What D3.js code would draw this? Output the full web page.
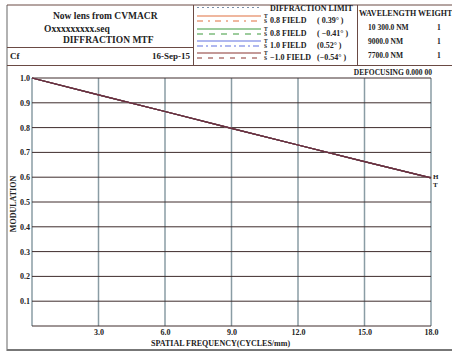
<!DOCTYPE html>
<html>
<head>
<meta charset="utf-8">
<script src="https://cdn.jsdelivr.net/npm/d3@7"></script>
<style>
  body { margin: 0; background: #fff; }
  svg text { font-family: "Liberation Serif", "DejaVu Serif", serif; font-weight: bold; fill: #222; }
</style>
</head>
<body>
<div id="chart"></div>
<script>
// MTF curve (all fields lie on the diffraction limit)
const frequencies = [0, 3, 6, 9, 12, 15, 18];
const diffractionMtf = [1.0, 0.932, 0.865, 0.797, 0.730, 0.663, 0.597];
const fieldMtf = [
  { name: '0.8 FIELD', angle: '( 0.39° )', color: '#e07040', values: diffractionMtf },
  { name: '0.8 FIELD', angle: '( −0.41° )', color: '#3c9a3c', values: diffractionMtf },
  { name: '1.0 FIELD', angle: '(0.52° )', color: '#6070e0', values: diffractionMtf },
  { name: '−1.0 FIELD', angle: '(−0.54° )', color: '#8a3430', values: diffractionMtf }
];
const xTicks = [3, 6, 9, 12, 15, 18];
const yTicks = [0.1, 0.2, 0.3, 0.4, 0.5, 0.6, 0.7, 0.8, 0.9, 1.0];
const wavelengths = ['10 300.0 NM', '9000.0 NM', '7700.0 NM'];
const weights = ['1', '1', '1'];
const headerLines = ['Now lens from CVMACR', 'Oxxxxxxxxx.seq', 'DIFFRACTION MTF'];

const width = 452, height = 353;
const svg = d3.select('#chart').append('svg')
  .attr('width', width).attr('height', height);

// frame and header
const frame = svg.append('g');
frame.append('line').attr('x1', 7).attr('x2', 7).attr('y1', 5).attr('y2', 351)
  .attr('stroke', '#999').attr('stroke-width', 1.5);
frame.append('line').attr('x1', 7).attr('x2', width).attr('y1', 350).attr('y2', 350)
  .attr('stroke', '#777').attr('stroke-width', 2);
frame.append('line').attr('x1', 7).attr('x2', width).attr('y1', 5).attr('y2', 5)
  .attr('stroke', '#6a4a44').attr('stroke-width', 1);
frame.append('line').attr('x1', 7).attr('x2', width).attr('y1', 65.5).attr('y2', 65.5)
  .attr('stroke', '#6a4a44').attr('stroke-width', 1);
frame.append('line').attr('x1', 7).attr('x2', 193).attr('y1', 47.5).attr('y2', 47.5)
  .attr('stroke', '#6a4a44').attr('stroke-width', 1);
frame.append('line').attr('x1', 193.5).attr('x2', 193.5).attr('y1', 5).attr('y2', 65.5)
  .attr('stroke', '#6a4a44').attr('stroke-width', 1);
frame.append('line').attr('x1', 357.5).attr('x2', 357.5).attr('y1', 5).attr('y2', 65.5)
  .attr('stroke', '#6a4a44').attr('stroke-width', 1);

svg.selectAll('.hdr').data(headerLines).enter().append('text')
  .attr('class', 'hdr')
  .attr('x', (d, i) => [53, 44, 63][i])
  .attr('y', (d, i) => [19, 32, 43][i])
  .attr('font-size', 9.5)
  .text(d => d);
svg.append('text').attr('x', 10).attr('y', 59).attr('font-size', 9).text('Cf');
svg.append('text').attr('x', 190).attr('y', 59).attr('font-size', 9)
  .attr('text-anchor', 'end').text('16-Sep-15');

// legend
const legend = svg.append('g');
legend.append('line').attr('x1', 197).attr('x2', 261).attr('y1', 7.5).attr('y2', 7.5)
  .attr('stroke', '#7890a8').attr('stroke-width', 1).attr('stroke-dasharray', '2,3');
legend.append('text').attr('x', 270).attr('y', 11).attr('font-size', 8)
  .text('DIFFRACTION  LIMIT');
const rowY = [16, 29, 41, 53];
const dashes = ['6,5,2,5', '6,6', '6,3,2,3', '5,6'];
fieldMtf.forEach((f, i) => {
  const y = rowY[i];
  legend.append('line').attr('x1', 197).attr('x2', 261).attr('y1', y).attr('y2', y)
    .attr('stroke', f.color).attr('stroke-width', 1.2);
  legend.append('line').attr('x1', 197).attr('x2', 261).attr('y1', y + 5).attr('y2', y + 5)
    .attr('stroke', f.color).attr('stroke-width', 1.2).attr('stroke-dasharray', dashes[i]);
  legend.append('text').attr('x', 264).attr('y', y + 2).attr('font-size', 5.5).text('T');
  legend.append('text').attr('x', 264).attr('y', y + 7).attr('font-size', 5.5).text('S');
  legend.append('text').attr('x', 270).attr('y', y + 6.5).attr('font-size', 8).text(f.name);
  legend.append('text').attr('x', 317).attr('y', y + 6.5).attr('font-size', 8).text(f.angle);
});

svg.append('text').attr('x', 359).attr('y', 16).attr('font-size', 8).text('WAVELENGTH  WEIGHT');
wavelengths.forEach((w, i) => {
  const y = 30 + i * 14;
  svg.append('text').attr('x', 368).attr('y', y).attr('font-size', 7.5).text(w);
  svg.append('text').attr('x', 437).attr('y', y).attr('font-size', 7.5).text(weights[i]);
});

svg.append('text').attr('x', 432).attr('y', 75).attr('font-size', 7.5)
  .attr('text-anchor', 'end').text('DEFOCUSING  0.000 00');

// plot
const x = d3.scaleLinear().domain([0, 18]).range([32, 431]);
const y = d3.scaleLinear().domain([0, 1]).range([326, 78]);

const grid = svg.append('g');
grid.selectAll('.vg').data(xTicks).enter().append('line')
  .attr('x1', d => x(d)).attr('x2', d => x(d))
  .attr('y1', y(0)).attr('y2', y(1))
  .attr('stroke', '#8a9ca4').attr('stroke-width', 1.5);
grid.append('line').attr('x1', x(0)).attr('x2', x(0)).attr('y1', y(0)).attr('y2', y(1))
  .attr('stroke', '#8a9ca4').attr('stroke-width', 1.5);
grid.selectAll('.hg').data([0].concat(yTicks)).enter().append('line')
  .attr('x1', x(0)).attr('x2', x(18))
  .attr('y1', d => y(d)).attr('y2', d => y(d))
  .attr('stroke', '#3e2c2c').attr('stroke-width', 1);

const yAxis = d3.axisLeft(y).tickValues(yTicks).tickSize(0).tickPadding(2)
  .tickFormat(d3.format('.1f'));
svg.append('g').attr('transform', `translate(${x(0)},0)`).call(yAxis)
  .call(g => g.select('.domain').remove())
  .call(g => g.selectAll('text').attr('font-size', 8)
    .attr('font-family', '"Liberation Serif", serif').attr('fill', '#222'));

const xAxis = d3.axisBottom(x).tickValues(xTicks).tickSize(0).tickPadding(3)
  .tickFormat(d3.format('.1f'));
svg.append('g').attr('transform', `translate(0,${y(0)})`).call(xAxis)
  .call(g => g.select('.domain').remove())
  .call(g => g.selectAll('text').attr('font-size', 8)
    .attr('font-family', '"Liberation Serif", serif').attr('fill', '#222'));

const line = d3.line().x((d, i) => x(frequencies[i])).y(d => y(d));
svg.append('path').datum(diffractionMtf).attr('d', line)
  .attr('fill', 'none').attr('stroke', '#7890a8').attr('stroke-width', 1.2);
fieldMtf.forEach(f => {
  svg.append('path').datum(f.values).attr('d', line)
    .attr('fill', 'none').attr('stroke', f.color).attr('stroke-width', 1.2);
});
svg.append('path').datum(diffractionMtf).attr('d', line)
  .attr('fill', 'none').attr('stroke', '#6a3040').attr('stroke-width', 1.2);

const last = diffractionMtf[diffractionMtf.length - 1];
svg.append('text').attr('x', x(18) + 2).attr('y', y(last) + 1).attr('font-size', 7).text('H');
svg.append('text').attr('x', x(18) + 2).attr('y', y(last) + 9).attr('font-size', 7).text('T');

svg.append('text').attr('transform', `translate(16,${204}) rotate(-90)`)
  .attr('text-anchor', 'middle').attr('font-size', 8).text('MODULATION');
svg.append('text').attr('x', 151).attr('y', 346).attr('font-size', 8)
  .text('SPATIAL FREQUENCY(CYCLES/mm)');
</script>
</body>
</html>
